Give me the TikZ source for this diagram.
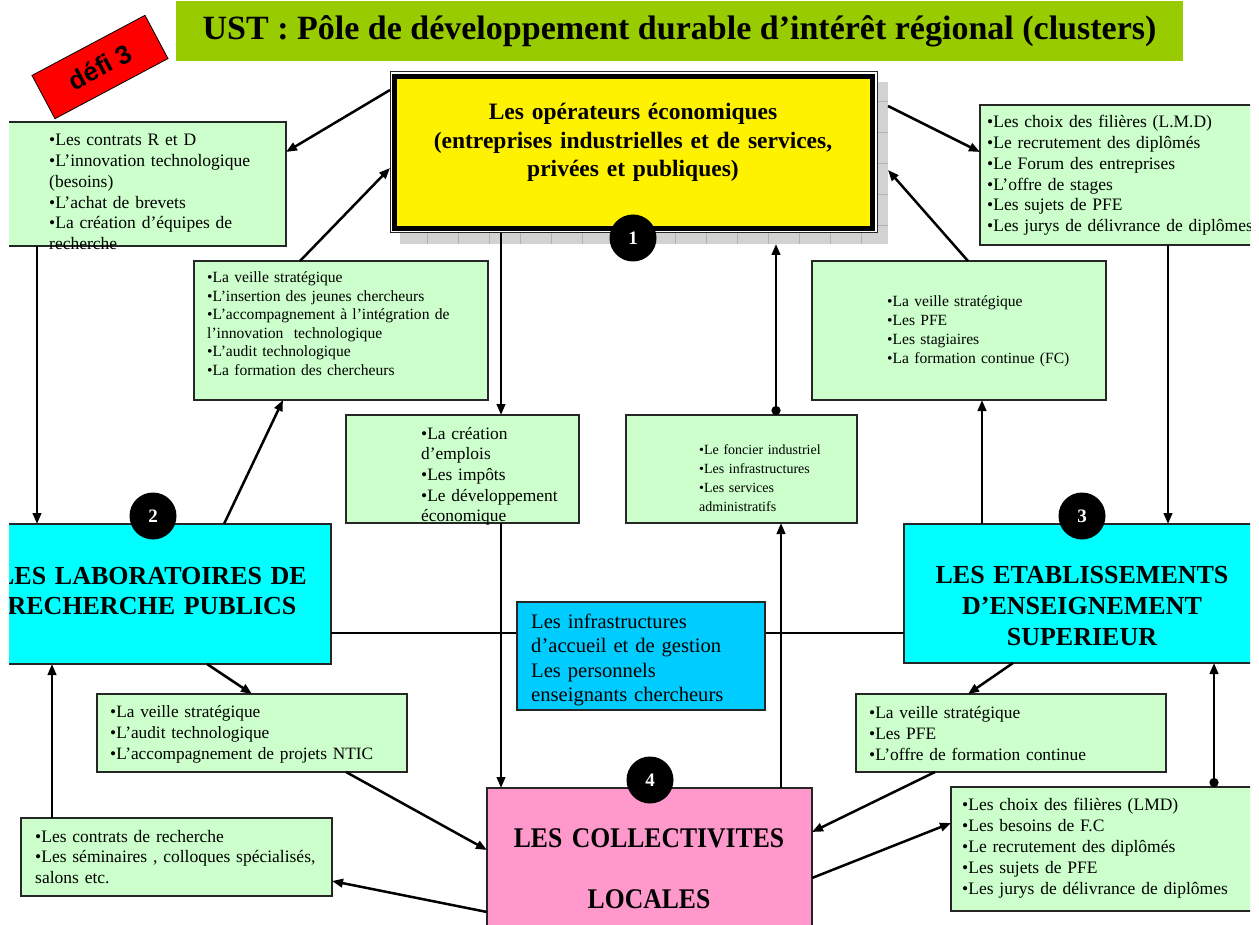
\documentclass[tikz,border=0pt]{standalone}
\usepackage{fontspec}
\setmainfont{Liberation Serif}
\newfontfamily\arial{Liberation Sans}
\newfontfamily\etroit[FakeStretch=0.9]{Liberation Serif}
\usetikzlibrary{arrows.meta}
\definecolor{vertclair}{HTML}{CCFFCC}
\definecolor{titrevert}{HTML}{99CC00}
\definecolor{cyanbox}{HTML}{00FFFF}
\definecolor{bleubox}{HTML}{00CCFF}
\definecolor{rosecoll}{HTML}{FF99CC}
\newcommand\fs[2]{\fontsize{#1}{#2}\selectfont}

\begin{document}
\begin{tikzpicture}[x=1pt,y=-1pt,
	box/.style={draw=black!85,line width=1.3pt,anchor=north west,inner sep=0pt,outer sep=0pt},
	vert/.style={box,fill=vertclair},
	liste/.style={anchor=base west,inner sep=0pt,text width=420pt,align=left},
	titrecap/.style={anchor=base,inner sep=0pt,text width=#1,align=center},
	fleche/.style={line width=2.5pt,-{Triangle[length=11pt,width=8.5pt]}},
	point/.style={line width=2.5pt,{Circle[length=9pt]}-{Triangle[length=11pt,width=8.5pt]}},
	num/.style={circle,fill=black,text=white,minimum size=47pt,inner sep=0pt,font=\fs{19}{19}\bfseries}]
	\useasboundingbox (0,0) rectangle (1259,925);
	\clip (9,0) rectangle (1250,925);
	%titre + defi
	\node[fill=titrevert,minimum width=1007pt,minimum height=60pt,inner sep=0pt,font=\fs{34}{40}\bfseries] (titre) at (679.5,31) {UST : Pôle de développement durable d’intérêt régional (clusters)};
	\node[fill=red,draw=black,line width=0.8pt,rotate=28,minimum width=128pt,minimum height=49pt,inner sep=0pt,font=\arial\bfseries\fs{26}{28}] (defi) at (100,67) {défi 3};
	%operateurs (ombre quadrillee derriere)
	\node[box,draw=none,fill=gray!35,minimum width=488pt,minimum height=162pt,path picture={\draw[gray!60,line width=0.5pt,step=31pt] (path picture bounding box.south west) grid (path picture bounding box.north east);}] (ombre) at (400,82) {};
	\node[box,line width=1pt,fill=white,minimum width=487pt,minimum height=161pt] (oper) at (390,72) {};
	\node[draw=black,line width=5pt,fill=yellow,minimum width=478pt,minimum height=152pt,inner sep=0pt] (operin) at (oper.center) {};
	\node[titrecap=470pt,font=\bfseries\fs{23.5}{28.5}] (opertxt) at (633,120) {Les opérateurs économiques\\(entreprises industrielles et de services,\\privées et publiques)};
	%boites vertes du haut
	\node[vert,minimum width=286pt,minimum height=124pt] (contratsRD) at (0,122) {};
	\node[liste,font=\fs{17.5}{20.7}] (contratsRDtxt) at (49,146) {•Les contrats R et D\\•L’innovation technologique\\(besoins)\\•L’achat de brevets\\•La création d’équipes de\\recherche};
	\node[vert,minimum width=300pt,minimum height=140pt] (filieres) at (980,105) {};
	\node[liste,font=\fs{17.5}{20.7}] (filierestxt) at (987,128) {•Les choix des filières (L.M.D)\\•Le recrutement des diplômés\\•Le Forum des entreprises\\•L’offre de stages\\•Les sujets de PFE\\•Les jurys de délivrance de diplômes};
	\node[vert,minimum width=294pt,minimum height=139pt] (veilleLab) at (194,261) {};
	\node[liste,font=\fs{15.6}{18.5}] (veilleLabtxt) at (207,283) {•La veille stratégique\\•L’insertion des jeunes chercheurs\\•L’accompagnement à l’intégration de\\l’innovation\ \ technologique\\•L’audit technologique\\•La formation des chercheurs};
	\node[vert,minimum width=294pt,minimum height=139pt] (veilleEtab) at (812,261) {};
	\node[liste,font=\fs{15.6}{18.7}] (veilleEtabtxt) at (887,307) {•La veille stratégique\\•Les PFE\\•Les stagiaires\\•La formation continue (FC)};
	\node[vert,minimum width=233pt,minimum height=108pt] (emplois) at (346,415) {};
	\node[liste,font=\fs{17.4}{20.7}] (emploistxt) at (421,439) {•La création\\d’emplois\\•Les impôts\\•Le développement\\économique};
	\node[vert,minimum width=231pt,minimum height=108pt] (foncier) at (626,415) {};
	\node[liste,font=\fs{14}{19}] (fonciertxt) at (699,454) {•Le foncier industriel\\•Les infrastructures\\•Les services\\administratifs};
	%acteurs 2 et 3
	\node[box,fill=cyanbox,minimum width=331pt,minimum height=140pt] (lab) at (0,524) {};
	\node[titrecap=340pt,font=\bfseries\fs{26}{30}] (labtxt) at (152,584) {LES LABORATOIRES DE\\RECHERCHE PUBLICS};
	\node[box,fill=cyanbox,minimum width=366pt,minimum height=139pt] (etab) at (904,524) {};
	\node[titrecap=340pt,font=\bfseries\fs{26}{31}] (etabtxt) at (1082,583) {LES ETABLISSEMENTS\\D’ENSEIGNEMENT\\SUPERIEUR};
	%boites vertes du bas
	\node[vert,minimum width=310pt,minimum height=78pt] (ntic) at (97,694) {};
	\node[liste,font=\fs{17.3}{21}] (ntictxt) at (110,717) {•La veille stratégique\\•L’audit technologique\\•L’accompagnement de projets NTIC};
	\node[vert,minimum width=310pt,minimum height=78pt] (veilleFC) at (856,694) {};
	\node[liste,font=\fs{17.4}{21}] (veilleFCtxt) at (869,718) {•La veille stratégique\\•Les PFE\\•L’offre de formation continue};
	\node[vert,minimum width=311pt,minimum height=78pt] (contratsRech) at (21,818) {};
	\node[liste,font=\fs{17.5}{20.7}] (contratsRechtxt) at (35,842) {•Les contrats de recherche\\•Les séminaires , colloques spécialisés,\\salons etc.};
	\node[vert,minimum width=320pt,minimum height=124pt] (lmd) at (951,787) {};
	\node[liste,font=\fs{17.5}{21}] (lmdtxt) at (962,810) {•Les choix des filières (LMD)\\•Les besoins de F.C\\•Le recrutement des diplômés\\•Les sujets de PFE\\•Les jurys de délivrance de diplômes};
	%acteur 4
	\node[box,fill=rosecoll,minimum width=325pt,minimum height=150pt] (coll) at (487,788) {};
	\node[titrecap=320pt,font=\etroit\bfseries\fs{28.5}{61}] (colltxt) at (649,847) {LES COLLECTIVITES\\LOCALES};
	%fleches
	\draw[fleche] ([yshift=-18pt]oper.north west) -- ([yshift=-30pt]contratsRD.north east);
	\draw[fleche] ([xshift=106pt]veilleLab.north west) -- ([yshift=-96pt]oper.north west);
	\draw[fleche] ([xshift=37pt]contratsRD.south west) -- ([xshift=37pt]lab.north west);
	\draw[fleche] ([xshift=224pt]lab.north west) -- ([xshift=89pt]veilleLab.south west);
	\draw[fleche] ([xshift=111pt]oper.south west) -- ([xshift=155pt]emplois.north west);
	\draw[fleche] ([xshift=155pt]emplois.south west) -- ([xshift=14pt]coll.north west);
	\draw[fleche] ([xshift=294pt]coll.north west) -- ([xshift=155pt]foncier.south west);
	\draw[point] ([xshift=150pt]foncier.north west) -- ([xshift=376pt]ombre.south west);
	\draw[fleche] ([yshift=-24pt]ombre.north east) -- ([yshift=-47pt]filieres.north west);
	\draw[fleche] ([xshift=78pt]etab.north west) -- ([xshift=170pt]veilleEtab.south west);
	\draw[fleche] ([xshift=156pt]veilleEtab.north west) -- ([yshift=-88pt]ombre.north east);
	\draw[fleche] ([xshift=188pt]filieres.south west) -- ([xshift=264pt]etab.north west);
	\draw[line width=2.2pt] ([yshift=-109pt]lab.north east) -- ([yshift=-109pt]etab.north west);
	\draw[fleche] ([xshift=207pt]lab.south west) -- ([xshift=155pt]ntic.north west);
	\draw[fleche] ([xshift=249pt]ntic.south west) -- ([yshift=-62pt]coll.north west);
	\draw[fleche] ([xshift=31pt]contratsRech.north west) -- ([xshift=52pt]lab.south west);
	\draw[fleche] ([yshift=-124pt]coll.north west) -- ([yshift=-63pt]contratsRech.north east);
	\draw[fleche] ([xshift=109pt]etab.south west) -- ([xshift=112pt]veilleFC.north west);
	\draw[fleche] ([xshift=79pt]veilleFC.south west) -- ([yshift=-44pt]coll.north east);
	\draw[fleche] ([yshift=-90pt]coll.north east) -- ([yshift=-36pt]lmd.north west);
	\draw[point] ([xshift=263pt]lmd.north west) -- ([xshift=310pt]etab.south west);
	%ressources communes (par-dessus la ligne 2-3)
	\node[box,fill=bleubox,minimum width=248pt,minimum height=108pt] (infra) at (517,602) {};
	\node[liste,font=\fs{20.6}{24.5}] (infratxt) at (531,628) {Les infrastructures\\d’accueil et de gestion\\Les personnels\\enseignants chercheurs};
	%numeros
	\node[num] (n1) at (633,238) {1};
	\node[num] (n2) at (153,516) {2};
	\node[num] (n3) at (1082,516) {3};
	\node[num] (n4) at (650,780) {4};
\end{tikzpicture}
\end{document}
